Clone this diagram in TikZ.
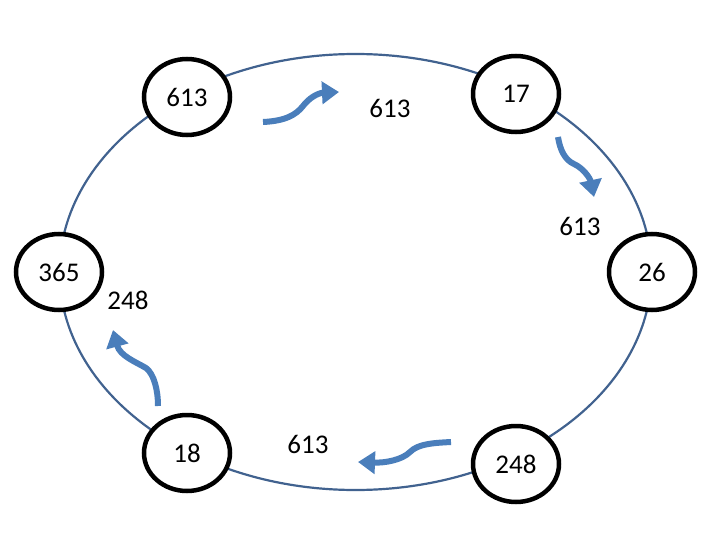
\documentclass[tikz,border=0pt]{standalone}
\usepackage{fontspec}
\setmainfont{Carlito}
\usetikzlibrary{arrows.meta,shapes.geometric}
\definecolor{ringblue}{HTML}{41628F}
\definecolor{arrblue}{HTML}{4A7EBB}
\tikzset{
  peer/.style={draw=black,line width=4.5pt,fill=white,ellipse,minimum width=86pt,minimum height=76pt,inner sep=0pt,font=\fontsize{27}{27}\selectfont},
  lbl/.style={font=\fontsize{27}{27}\selectfont,inner sep=0pt},
  flow/.style={draw=arrblue,line width=6pt,-{Triangle[width=22pt,length=17pt]}}
}
\begin{document}
\begin{tikzpicture}[x=1pt,y=-1pt]
\useasboundingbox (0,0) rectangle (720,540);
\draw[ringblue,line width=2.2pt] (355.5,272) ellipse [x radius=296,y radius=218];
\node[peer] (n613) at (187,97) {613};
\node[peer] (n17) at (516,94) {17};
\node[peer] (n26) at (652,272) {26};
\node[peer] (n248) at (516,464) {248};
\node[peer] (n18) at (187,453) {18};
\node[peer] (n365) at (59,272) {365};
\node[lbl] (l1) at (390,108) {613};
\node[lbl] (l2) at (580,226) {613};
\node[lbl] (l3) at (128,300) {248};
\node[lbl] (l4) at (308,444) {613};
\coordinate (a1s) at (263,122);
\coordinate (a1e) at (339,92);
\coordinate (a2s) at (558,137);
\coordinate (a2e) at (594,197);
\coordinate (a3s) at (158,406);
\coordinate (a3e) at (113,330);
\coordinate (a4s) at (451,442);
\coordinate (a4e) at (358,462);
\draw[flow] (a1s) .. controls (285,121) and (296,115) .. (303,106) .. controls (309,98) and (318,93) .. (a1e);
\draw[flow] (a2s) .. controls (560,150) and (565,160) .. (574,164) .. controls (583,168) and (590,178) .. (a2e);
\draw[flow] (a3s) .. controls (158,390) and (154,374) .. (146,368) .. controls (136,362) and (120,356) .. (a3e);
\draw[flow] (a4s) .. controls (432,443) and (418,444) .. (410,452) .. controls (402,460) and (385,463) .. (a4e);
\end{tikzpicture}
\end{document}
